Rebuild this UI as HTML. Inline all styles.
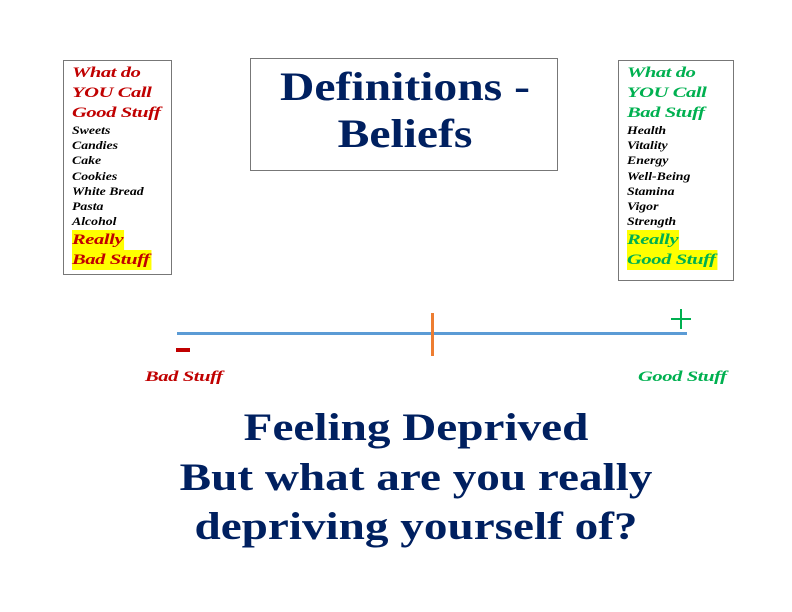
<!DOCTYPE html>
<html><head><meta charset="utf-8"><style>
body{margin:0;width:792px;height:612px;background:#fff;position:relative;overflow:hidden;font-family:"Liberation Serif",serif}
.box{position:absolute;border:1px solid #777;box-sizing:border-box}
.t{position:absolute;white-space:nowrap;font-style:italic;font-weight:bold}
.h{font-size:15px;line-height:20px;font-weight:900;letter-spacing:-0.3px}
.h span,.h b{display:inline-block;transform:scaleX(1.37);transform-origin:left}
.s{font-size:11.5px;line-height:15.2px}
.s span{display:inline-block;transform:scaleX(1.2);transform-origin:left}
.red{color:#c00000}.grn{color:#00b050}
.hl{background:#ffff00;padding-right:1px}
.big{position:absolute;left:20px;width:792px;text-align:center;color:#002060;font-weight:bold;font-size:39px;line-height:49px;transform:scaleX(1.21);transform-origin:center}
</style></head><body>
<div class="box" style="left:63px;top:60px;width:109px;height:215px"></div>
<div class="box" style="left:618px;top:60px;width:116px;height:221px"></div>
<div class="box" style="left:250px;top:58px;width:308px;height:113px"></div>
<div style="position:absolute;left:251px;top:63px;width:308px;text-align:center;color:#002060;font-weight:bold;font-size:40px;line-height:47px;transform:scaleX(1.19)">Definitions -<br>Beliefs</div>

<div class="t" style="left:72px;top:63px">
<div class="h red"><b>What do</b></div><div class="h red"><b>YOU Call</b></div><div class="h red"><b>Good Stuff</b></div>
<div class="s" style="margin-top:1px"><span>Sweets</span></div><div class="s"><span>Candies</span></div><div class="s"><span>Cake</span></div><div class="s"><span>Cookies</span></div><div class="s"><span>White Bread</span></div><div class="s"><span>Pasta</span></div><div class="s"><span>Alcohol</span></div>
<div class="h red"><span class="hl">Really</span></div><div class="h red"><span class="hl">Bad Stuff</span></div>
</div>

<div class="t" style="left:627px;top:63px">
<div class="h grn"><b>What do</b></div><div class="h grn"><b>YOU Call</b></div><div class="h grn"><b>Bad Stuff</b></div>
<div class="s" style="margin-top:1px"><span>Health</span></div><div class="s"><span>Vitality</span></div><div class="s"><span>Energy</span></div><div class="s"><span>Well-Being</span></div><div class="s"><span>Stamina</span></div><div class="s"><span>Vigor</span></div><div class="s"><span>Strength</span></div>
<div class="h grn"><span class="hl">Really</span></div><div class="h grn"><span class="hl">Good Stuff</span></div>
</div>

<div style="position:absolute;left:177px;top:332px;width:510px;height:3px;background:#5b9bd5"></div>
<div style="position:absolute;left:431px;top:313px;width:3px;height:43px;background:#ed7d31"></div>
<div style="position:absolute;left:176px;top:348px;width:14px;height:4px;background:#c00000"></div>
<div style="position:absolute;left:680px;top:309px;width:2px;height:20px;background:#00b050"></div>
<div style="position:absolute;left:671px;top:318px;width:20px;height:2px;background:#00b050"></div>
<div class="t h red" style="left:145px;top:367px"><b>Bad Stuff</b></div>
<div class="t h grn" style="left:638px;top:367px"><b>Good Stuff</b></div>

<div class="big" style="top:403px">Feeling Deprived</div>
<div class="big" style="top:453px">But what are you really</div>
<div class="big" style="top:502px">depriving yourself of?</div>
</body></html>
